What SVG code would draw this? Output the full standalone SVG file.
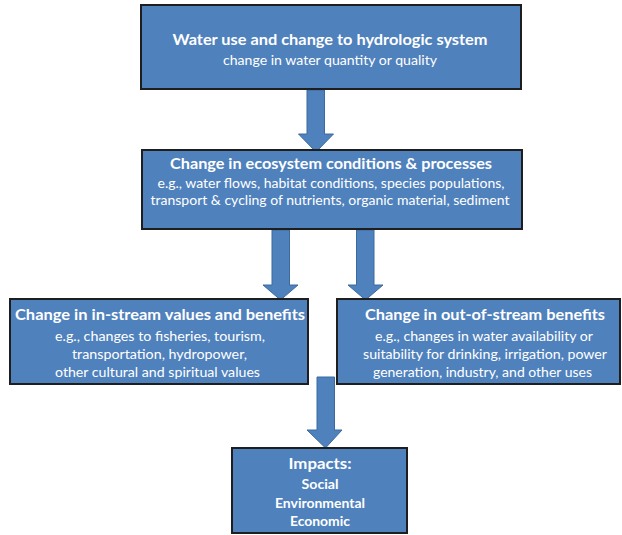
<svg xmlns="http://www.w3.org/2000/svg" width="622" height="535" viewBox="0 0 622 535">
<style>
.box{fill:#4f81bd;stroke:#1e1e1e;stroke-width:2}
.arr{fill:#4f81bd;stroke:#3c6a9f;stroke-width:1}
text{fill:#ffffff;font-family:Lato,"Open Sans","Liberation Sans",sans-serif;font-weight:bold;text-anchor:middle}
.t{font-size:15px}
.s{font-size:12.5px}
</style>
<rect width="622" height="535" fill="#ffffff"/>
<g id="connectors">
<polygon class="arr" points="307,90 324.5,90 324.5,134 333.5,134 316,152 298.5,134 307,134"/>
<polygon class="arr" points="272,230 289.5,230 289.5,285 298,285 280.5,300 263,285 272,285"/>
<polygon class="arr" points="356.5,230 374,230 374,285 383,285 365.5,300 348,285 356.5,285"/>
<polygon class="arr" points="317,377 334.5,377 334.5,430 342,430 325.5,448 307,430 317,430"/>
</g>
<g id="n1">
<rect class="box" x="141" y="5" width="380" height="84"/>
<text class="t" x="330" y="45" textLength="315" lengthAdjust="spacingAndGlyphs">Water use and change to hydrologic system</text>
<text class="s" x="330" y="65" textLength="214" lengthAdjust="spacingAndGlyphs" style="font-weight:normal">change in water quantity or quality</text>
</g>
<g id="n2">
<rect class="box" x="142" y="150" width="380" height="79"/>
<text class="t" x="331" y="169" textLength="322" lengthAdjust="spacingAndGlyphs">Change in ecosystem conditions &amp; processes</text>
<text class="s" x="331" y="188" textLength="347" lengthAdjust="spacingAndGlyphs" style="font-weight:normal">e.g., water flows, habitat conditions, species populations,</text>
<text class="s" x="330" y="205" textLength="359" lengthAdjust="spacingAndGlyphs" style="font-weight:normal">transport &amp; cycling of nutrients, organic material, sediment</text>
</g>
<g id="n3">
<rect class="box" x="10" y="299" width="298" height="85"/>
<text class="t" x="160" y="320" textLength="290" lengthAdjust="spacingAndGlyphs">Change in in-stream values and benefits</text>
<text class="s" x="160" y="341" textLength="210" lengthAdjust="spacingAndGlyphs" style="font-weight:normal">e.g., changes to fisheries, tourism,</text>
<text class="s" x="159.5" y="359" textLength="175" lengthAdjust="spacingAndGlyphs" style="font-weight:normal">transportation, hydropower,</text>
<text class="s" x="157.5" y="377" textLength="205" lengthAdjust="spacingAndGlyphs" style="font-weight:normal">other cultural and spiritual values</text>
</g>
<g id="n4">
<rect class="box" x="337" y="299" width="283" height="85"/>
<text class="t" x="485" y="320" textLength="240" lengthAdjust="spacingAndGlyphs">Change in out-of-stream benefits</text>
<text class="s" x="484" y="341" textLength="218" lengthAdjust="spacingAndGlyphs" style="font-weight:normal">e.g., changes in water availability or</text>
<text class="s" x="485" y="359" textLength="244" lengthAdjust="spacingAndGlyphs" style="font-weight:normal">suitability for drinking, irrigation, power</text>
<text class="s" x="482.5" y="377" textLength="219" lengthAdjust="spacingAndGlyphs" style="font-weight:normal">generation, industry, and other uses</text>
</g>
<g id="n5">
<rect class="box" x="232" y="448" width="175" height="85"/>
<text class="t" x="320" y="469" textLength="63" lengthAdjust="spacingAndGlyphs">Impacts:</text>
<text class="s" x="320" y="489" textLength="37" lengthAdjust="spacingAndGlyphs">Social</text>
<text class="s" x="320" y="508" textLength="90" lengthAdjust="spacingAndGlyphs">Environmental</text>
<text class="s" x="320" y="526" textLength="60" lengthAdjust="spacingAndGlyphs">Economic</text>
</g>
</svg>
